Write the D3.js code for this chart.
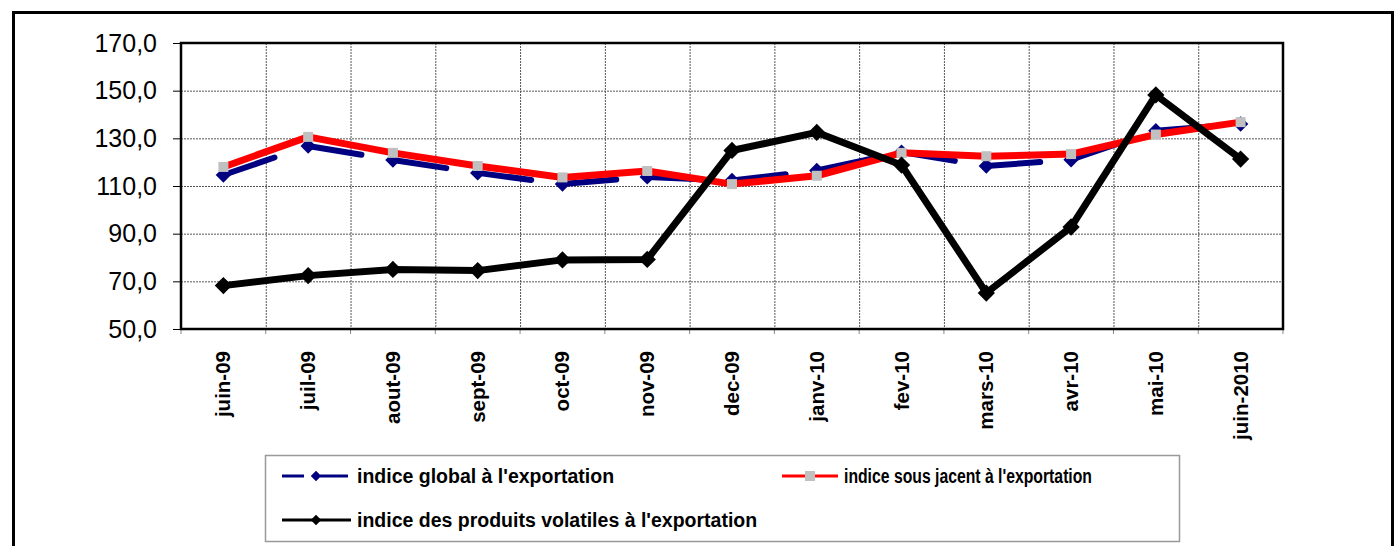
<!DOCTYPE html>
<html>
<head>
<meta charset="utf-8">
<script src="https://cdn.jsdelivr.net/npm/d3@7"></script>
<style>
  body { margin: 0; background: #fff; }
  svg { display: block; font-family: Arial, "Liberation Sans", sans-serif; }
</style>
</head>
<body>
<div id="chart"></div>
<script>
// data
const months = ["juin-09", "juil-09", "aout-09", "sept-09", "oct-09", "nov-09", "dec-09",
  "janv-10", "fev-10", "mars-10", "avr-10", "mai-10", "juin-2010"];
const indiceGlobal = [114.6, 126.8, 120.9, 115.5, 110.8, 113.8, 112.3, 116.5, 124.2, 118.4, 121.0, 133.2, 136.0];
const indiceSousJacent = [118.0, 130.6, 123.9, 118.4, 113.6, 116.3, 110.8, 114.3, 123.9, 122.5, 123.4, 131.6, 136.8];
const indiceVolatiles = [68.2, 72.4, 75.0, 74.5, 79.0, 79.2, 124.9, 132.5, 118.8, 65.1, 92.8, 148.2, 121.3];
const yTicks = [50, 70, 90, 110, 130, 150, 170];

const width = 1395, height = 546;
const margin = { top: 43, right: 112, bottom: 217, left: 181 };
const chartwidth = width - margin.left - margin.right;
const chartheight = height - margin.top - margin.bottom;

const svg = d3.select("#chart").append("svg")
  .attr("width", width)
  .attr("height", height);

// outer chart frame (runs past the bottom of the window)
svg.append("rect")
  .attr("x", 13.5).attr("y", 12.5)
  .attr("width", 1379).attr("height", 600)
  .attr("fill", "none").attr("stroke", "#000").attr("stroke-width", 3);

const g = svg.append("g")
  .attr("transform", "translate(" + margin.left + "," + margin.top + ")");

const xscale = d3.scalePoint().domain(months).range([0, chartwidth]).padding(0.5);
const step = xscale.step();
const yscale = d3.scaleLinear().domain([50, 170]).range([chartheight, 0]);

// gridlines
g.append("g").selectAll("line")
  .data(yTicks.slice(1, -1))
  .join("line")
  .attr("x1", 0).attr("x2", chartwidth)
  .attr("y1", d => yscale(d) + 0.5).attr("y2", d => yscale(d) + 0.5)
  .attr("stroke", "#555").attr("stroke-dasharray", "2,1");

g.append("g").selectAll("line")
  .data(months.slice(1))
  .join("line")
  .attr("x1", d => xscale(d) - step / 2 + 0.5).attr("x2", d => xscale(d) - step / 2 + 0.5)
  .attr("y1", 0).attr("y2", chartheight)
  .attr("stroke", "#555").attr("stroke-dasharray", "2,1");

// y axis
const yAxis = d3.axisLeft(yscale)
  .tickValues(yTicks)
  .tickSize(8)
  .tickPadding(16)
  .tickFormat(d => d3.format(".1f")(d).replace(".", ","));
const yAxisG = g.append("g").call(yAxis);
yAxisG.select(".domain").remove();
yAxisG.selectAll(".tick line").attr("stroke", "#000");
yAxisG.selectAll("text")
  .attr("font-size", 25)
  .attr("fill", "#000")
  .attr("font-family", "Arial, 'Liberation Sans', sans-serif");

// x axis: ticks at category boundaries, labels rotated
const bounds = d3.range(months.length + 1).map(i => i * step);
g.append("g").selectAll("line")
  .data(bounds)
  .join("line")
  .attr("x1", d => d).attr("x2", d => d)
  .attr("y1", chartheight).attr("y2", chartheight + 5)
  .attr("stroke", "#888");

g.append("g").selectAll("text")
  .data(months)
  .join("text")
  .attr("transform", d => "translate(" + (xscale(d) + 7) + "," + (chartheight + 22) + ") rotate(-90)")
  .attr("text-anchor", "end")
  .attr("font-size", 20.5)
  .attr("font-weight", "bold")
  .text(d => d);

// plot frame
g.append("rect")
  .attr("x", 0).attr("y", 0)
  .attr("width", chartwidth).attr("height", chartheight)
  .attr("fill", "none").attr("stroke", "#000").attr("stroke-width", 2.5);

const diamond = d3.symbol().type(d3.symbolDiamond2);

// series 1: global, navy dashed (each segment starts with a dash)
const pairs = d3.pairs(indiceGlobal.map((v, i) => [xscale(months[i]), yscale(v)]));
g.append("g").selectAll("path")
  .data(pairs)
  .join("path")
  .attr("d", d => d3.line()(d))
  .attr("fill", "none")
  .attr("stroke", "#000080")
  .attr("stroke-width", 6)
  .attr("stroke-linecap", "round")
  .attr("stroke-dasharray", "54,300");
g.append("g").selectAll("path")
  .data(indiceGlobal)
  .join("path")
  .attr("transform", (d, i) => "translate(" + xscale(months[i]) + "," + yscale(d) + ")")
  .attr("d", diamond.size(150))
  .attr("fill", "#000080");

// series 2: sous jacent, red with grey squares
g.append("path")
  .datum(indiceSousJacent)
  .attr("d", d3.line().x((d, i) => xscale(months[i])).y(d => yscale(d)))
  .attr("fill", "none")
  .attr("stroke", "#ff0000")
  .attr("stroke-width", 7)
  .attr("stroke-linejoin", "round");
g.append("g").selectAll("rect")
  .data(indiceSousJacent)
  .join("rect")
  .attr("x", (d, i) => xscale(months[i]) - 5)
  .attr("y", d => yscale(d) - 5)
  .attr("width", 10).attr("height", 10)
  .attr("fill", "#c0c0c0");

// series 3: produits volatiles, black with black diamonds
g.append("path")
  .datum(indiceVolatiles)
  .attr("d", d3.line().x((d, i) => xscale(months[i])).y(d => yscale(d)))
  .attr("fill", "none")
  .attr("stroke", "#000")
  .attr("stroke-width", 7)
  .attr("stroke-linejoin", "miter");
g.append("g").selectAll("path")
  .data(indiceVolatiles)
  .join("path")
  .attr("transform", (d, i) => "translate(" + xscale(months[i]) + "," + yscale(d) + ")")
  .attr("d", diamond.size(190))
  .attr("fill", "#000");

// legend
const legend = svg.append("g");
legend.append("rect")
  .attr("x", 265.5).attr("y", 455.5)
  .attr("width", 914).attr("height", 86)
  .attr("fill", "#fff").attr("stroke", "#999").attr("stroke-width", 1.5);

const legendItems = [
  { label: "indice global à l'exportation", x: 282, y: 476, color: "#000080", marker: "diamond", dashed: true },
  { label: "indice sous jacent à l'exportation", x: 782, y: 476, color: "#ff0000", marker: "square", fit: 248 },
  { label: "indice des produits volatiles à l'exportation", x: 282, y: 520, color: "#000", marker: "diamond" }
];

legendItems.forEach(it => {
  const lg = legend.append("g").attr("transform", "translate(" + it.x + "," + it.y + ")");
  if (it.dashed) {
    lg.append("line").attr("x1", 0).attr("x2", 22).attr("y1", 0).attr("y2", 0)
      .attr("stroke", it.color).attr("stroke-width", 3);
    lg.append("line").attr("x1", 38).attr("x2", 66).attr("y1", 0).attr("y2", 0)
      .attr("stroke", it.color).attr("stroke-width", 3);
  } else {
    lg.append("line").attr("x1", 0).attr("x2", it.marker === "square" ? 56 : 69).attr("y1", 0).attr("y2", 0)
      .attr("stroke", it.color).attr("stroke-width", 3);
  }
  if (it.marker === "diamond") {
    lg.append("path").attr("transform", "translate(34,0)")
      .attr("d", d3.symbol().type(d3.symbolDiamond2).size(70)())
      .attr("fill", it.color);
  } else {
    lg.append("rect").attr("x", 23).attr("y", -5).attr("width", 10).attr("height", 10)
      .attr("fill", "#c0c0c0");
  }
  const t = lg.append("text")
    .attr("x", it.marker === "square" ? 62 : 75)
    .attr("y", 0)
    .attr("dy", "0.35em")
    .attr("font-size", 19.5)
    .attr("font-weight", "bold")
    .text(it.label);
  if (it.fit) t.attr("textLength", it.fit).attr("lengthAdjust", "spacingAndGlyphs");
});
</script>
</body>
</html>
